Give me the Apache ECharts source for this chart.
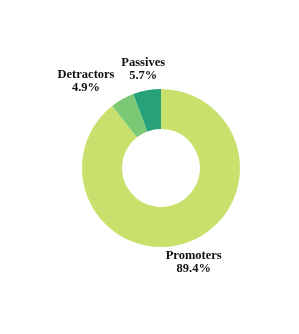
<!DOCTYPE html>
<html>
<head>
<meta charset="utf-8">
<script src="https://cdn.jsdelivr.net/npm/echarts@6/dist/echarts.min.js"></script>
<style>
  html, body { margin: 0; padding: 0; background: #fff; }
  #chart { width: 299px; height: 334px; }
</style>
</head>
<body>
<div id="chart"></div>
<script>
// NPS breakdown
const categories = ['Promoters', 'Detractors', 'Passives']
const shares = [89.4, 4.9, 5.7]
const colors = ['#c8e06c', '#7cc975', '#26a17a']

const chart = echarts.init(document.getElementById('chart'))

chart.setOption({
  animation: false,
  series: [
    {
      type: 'pie',
      center: [161, 168],
      radius: [39, 79],
      startAngle: 90,
      clockwise: true,
      avoidLabelOverlap: false,
      emphasis: { disabled: true },
      data: categories.map((name, i) => ({
        name: name,
        value: shares[i],
        itemStyle: { color: colors[i] }
      })),
      label: {
        show: true,
        position: 'outside',
        distanceToLabelLine: 0,
        fontFamily: 'Liberation Serif',
        fontWeight: 'bold',
        fontSize: 12.5,
        lineHeight: 13,
        color: '#111',
        formatter: p => p.name + '\n' + p.value.toFixed(1) + '%'
      },
      labelLine: { show: false, length: 21, length2: 0 },
      labelLayout: p => {
        // detractors label is pushed out to the left so it clears passives
        if (p.dataIndex === 1) {
          return { align: 'center', verticalAlign: 'middle', dx: -26, dy: 0 }
        }
        return { align: 'center', verticalAlign: 'middle' }
      }
    }
  ]
})
</script>
</body>
</html>
